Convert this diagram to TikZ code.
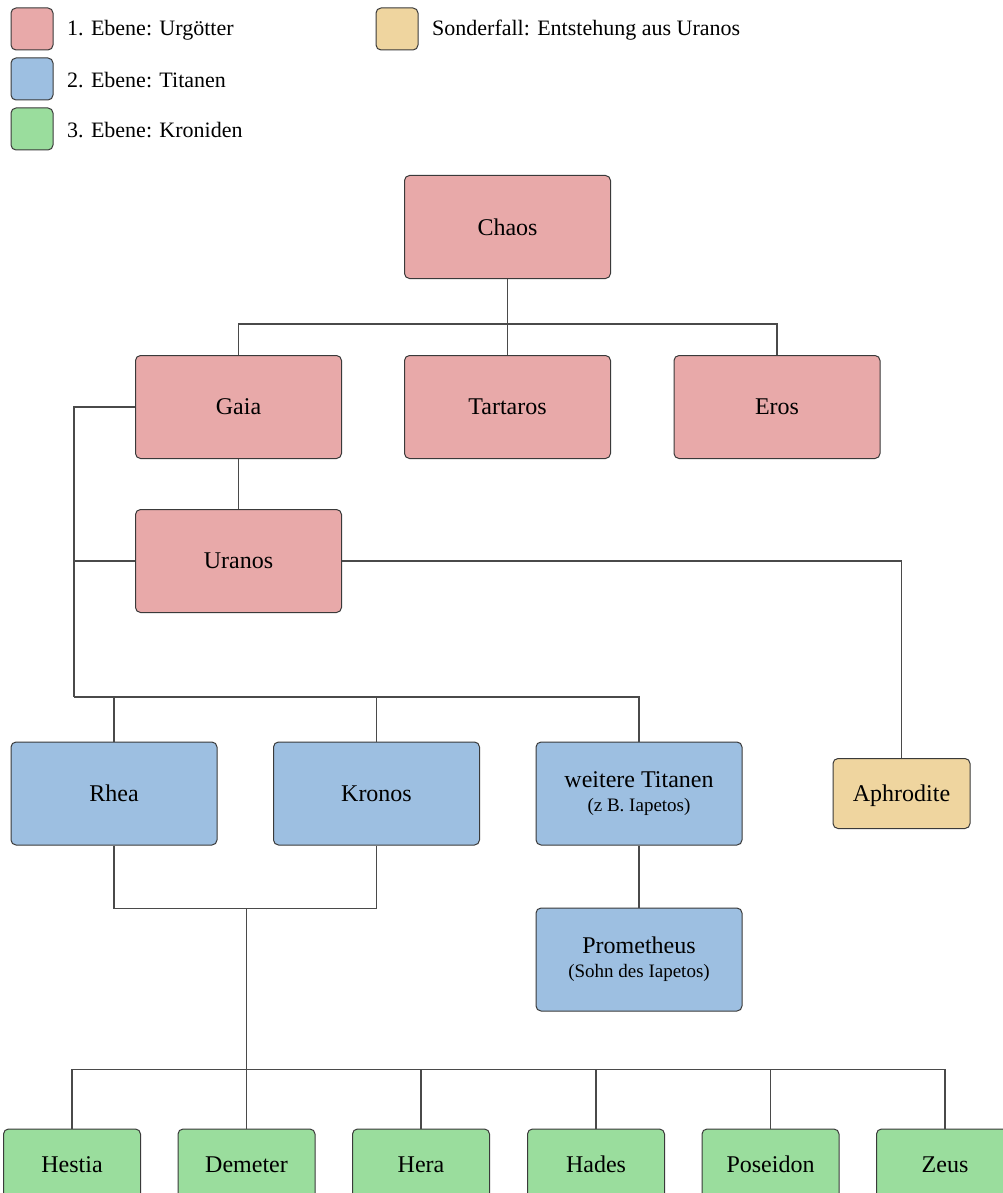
\documentclass[tikz,border=0pt]{standalone}
\usepackage{fontspec}
\setmainfont{Liberation Serif}
\usepackage{xcolor}
\usepackage{tikz}
\usetikzlibrary{positioning,calc}
\definecolor{urgott}{HTML}{E8A9A9}
\definecolor{titan}{HTML}{9DBFE1}
\definecolor{kronid}{HTML}{9ADD9D}
\definecolor{sonder}{HTML}{EFD59F}
\definecolor{rand}{HTML}{3A3A3A}
\definecolor{linie}{HTML}{4A4A4A}

\begin{document}
\begin{tikzpicture}[x=1pt,y=-1pt,
	gott/.style={draw=rand,line width=1pt,rounded corners=5pt,minimum width=206pt,minimum height=103pt,inner sep=0pt,align=center,font=\fontsize{24}{28}\selectfont},
	klein/.style={gott,minimum width=137pt,minimum height=70pt,text height=18pt,text depth=2pt},
	feld/.style={draw=rand,line width=1pt,rounded corners=5pt,minimum width=42pt,minimum height=42pt,inner sep=0pt},
	legende/.style={anchor=west,inner sep=0pt,font=\fontsize{22}{26}\selectfont},
	ast/.style={draw=linie,line width=1.1pt}]
		\clip (0,0) rectangle (1003,1193);
		% Legende
		\node[feld,fill=urgott] (l1) at (32,29) {};
		\node[feld,fill=titan] (l2) at (32,79) {};
		\node[feld,fill=kronid] (l3) at (32,129) {};
		\node[feld,fill=sonder] (l4) at (397,29) {};
		\node[legende] (t1) at (67,30) {1. Ebene: Urgötter};
		\node[legende] (t2) at (67,80) {2. Ebene: Titanen};
		\node[legende] (t3) at (67,130) {3. Ebene: Kroniden};
		\node[legende] (t4) at (432,30) {Sonderfall: Entstehung aus Uranos};
		% Urgoetter
		\node[gott,fill=urgott] (chaos) at (507.5,227) {Chaos};
		\node[gott,fill=urgott] (gaia) at (238.5,407) {Gaia};
		\node[gott,fill=urgott] (tartaros) at (507.5,407) {Tartaros};
		\node[gott,fill=urgott] (eros) at (777,407) {Eros};
		\node[gott,fill=urgott] (uranos) at (238.5,561) {Uranos};
		% Titanen
		\node[gott,fill=titan] (rhea) at (114,793.5) {Rhea};
		\node[gott,fill=titan] (kronos) at (376.5,793.5) {Kronos};
		\node[gott,fill=titan] (titanen) at (639,793.5) {weitere Titanen\\[-4pt]{\fontsize{19}{22}\selectfont(z B. Iapetos)}};
		\node[gott,fill=titan] (prometheus) at (639,959.5) {Prometheus\\[-4pt]{\fontsize{19}{22}\selectfont(Sohn des Iapetos)}};
		\node[klein,fill=sonder] (aphrodite) at (901.5,793.5) {Aphrodite};
		% Kroniden
		\node[klein,fill=kronid] (hestia) at (72,1164) {Hestia};
		\node[klein,fill=kronid] (demeter) at (246.5,1164) {Demeter};
		\node[klein,fill=kronid] (hera) at (421,1164) {Hera};
		\node[klein,fill=kronid] (hades) at (596,1164) {Hades};
		\node[klein,fill=kronid] (poseidon) at (770.5,1164) {Poseidon};
		\node[klein,fill=kronid] (zeus) at (945,1164) {Zeus};
		% Verbindungen
		\draw[ast] (chaos.south) -- ++(0,45) coordinate (c1);
		\draw[ast] (gaia.north) |- (c1) -| (eros.north);
		\draw[ast] (c1) -- (tartaros.north);
		\draw[ast] (gaia) -- (uranos);
		\draw[ast] (gaia.west) -- ++(-61,0) coordinate (g1) -- (g1 |- 0,697) coordinate (g2);
		\draw[ast] (uranos.west) -- (uranos.west -| g1);
		\draw[ast] (g2) -| (titanen.north);
		\draw[ast] (rhea.north) -- (rhea.north |- g2);
		\draw[ast] (kronos.north) -- (kronos.north |- g2);
		\draw[ast] (uranos.east) -| (aphrodite.north);
		\draw[ast] (titanen) -- (prometheus);
		\draw[ast] (rhea.south) -- ++(0,63) coordinate (r1) -| (kronos.south);
		\draw[ast] (demeter.north) -- (demeter.north |- r1);
		\draw[ast] (hestia.north) -- ++(0,-59) -| (zeus.north);
		\foreach \gott in {hera,hades,poseidon}
			\draw[ast] (\gott.north) -- ++(0,-59);
	\end{tikzpicture}
\end{document}
